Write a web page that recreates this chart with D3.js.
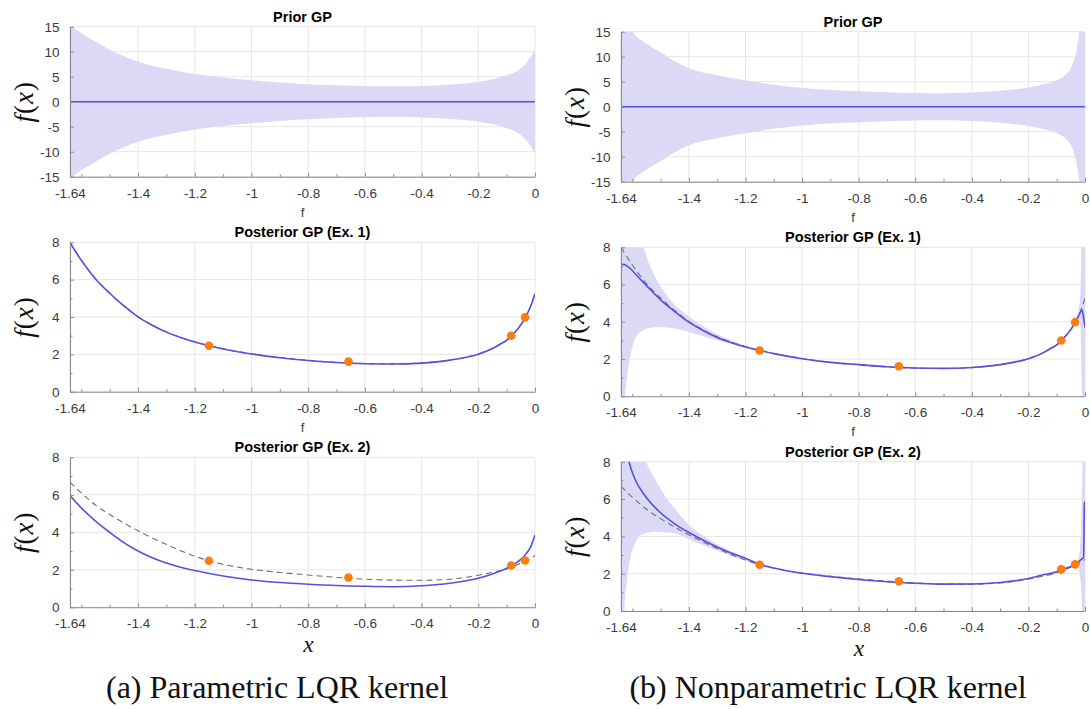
<!DOCTYPE html>
<html>
<head>
<meta charset="utf-8">
<script src="https://cdn.jsdelivr.net/npm/d3@7"></script>
<style>
  body { margin: 0; background: #fff; }
  svg { display: block; }
  .tick text { font-family: "Liberation Sans", Arial, Helvetica, sans-serif; font-size: 13.5px; fill: #3a3a3a; }
  .domain { stroke: #8a8a8a; stroke-width: 1.1; }
  .tick line { stroke: #8a8a8a; }
</style>
</head>
<body>
<svg id="fig" width="1090" height="709"></svg>
<script>
// ---- axis ticks ----
const xTicks = [-1.64, -1.4, -1.2, -1, -0.8, -0.6, -0.4, -0.2, 0];
const xMinorTicks = [-1.6, -1.5, -1.3, -1.1, -0.9, -0.7, -0.5, -0.3, -0.1];
const priorYTicks = [-15, -10, -5, 0, 5, 10, 15];
const postYTicks = [0, 2, 4, 6, 8];
const postYMinorTicks = [1, 3, 5, 7];

// ---- observations ----
const obsX = [-1.15, -0.658, -0.084, -0.035];
const obsEx1 = [2.46, 1.61, 3.0, 3.98];
const obsEx2 = [2.48, 1.59, 2.23, 2.5];

// ---- true functions (dashed) ----
const ex1True = [
  [-1.64, 8.0], [-1.6, 7.05], [-1.55, 6.05], [-1.5, 5.28], [-1.45, 4.6], [-1.4, 4.02],
  [-1.35, 3.57], [-1.3, 3.2], [-1.25, 2.91], [-1.2, 2.67], [-1.15, 2.47], [-1.1, 2.3],
  [-1.0, 2.03], [-0.9, 1.83], [-0.8, 1.68], [-0.7, 1.57], [-0.6, 1.51], [-0.5, 1.49],
  [-0.4, 1.54], [-0.3, 1.7], [-0.2, 2.02], [-0.15, 2.32], [-0.12, 2.58], [-0.1, 2.76],
  [-0.085, 2.98], [-0.06, 3.38], [-0.035, 3.96], [-0.015, 4.6], [0, 5.25]
];
const ex2True = [
  [-1.64, 6.68], [-1.6, 6.1], [-1.55, 5.45], [-1.5, 4.95], [-1.45, 4.5], [-1.4, 4.08],
  [-1.35, 3.7], [-1.3, 3.35], [-1.25, 3.02], [-1.2, 2.73], [-1.15, 2.48], [-1.1, 2.29],
  [-1.0, 2.03], [-0.9, 1.86], [-0.8, 1.72], [-0.7, 1.6], [-0.6, 1.5], [-0.5, 1.45],
  [-0.4, 1.44], [-0.3, 1.5], [-0.2, 1.71], [-0.15, 1.86], [-0.1, 2.05], [-0.085, 2.14],
  [-0.05, 2.35], [-0.035, 2.44], [0, 2.76]
];

// ---- parametric LQR kernel: [x, lower, upper] bands and posterior means ----
const priorParamBand = [
  [-1.64, -15.6, 15.6], [-1.63, -15.0, 15.0], [-1.6, -13.7, 13.7], [-1.55, -12.0, 12.0],
  [-1.5, -10.4, 10.4], [-1.45, -9.1, 9.1], [-1.4, -8.0, 8.0], [-1.3, -6.6, 6.6],
  [-1.2, -5.55, 5.55], [-1.1, -4.85, 4.85], [-1.0, -4.3, 4.3], [-0.9, -3.85, 3.85],
  [-0.8, -3.5, 3.5], [-0.7, -3.27, 3.27], [-0.6, -3.13, 3.13], [-0.5, -3.08, 3.08],
  [-0.4, -3.15, 3.15], [-0.3, -3.45, 3.45], [-0.2, -4.0, 4.0], [-0.15, -4.5, 4.5],
  [-0.1, -5.3, 5.3], [-0.05, -6.65, 6.65], [-0.025, -8.1, 8.1], [0, -10.3, 10.3]
];
const priorMean = [[-1.64, 0], [0, 0]];
const ex1ParamMean = [
  [-1.64, 7.98], [-1.6, 7.03], [-1.55, 6.04], [-1.5, 5.27], [-1.45, 4.59], [-1.4, 4.01],
  [-1.35, 3.56], [-1.3, 3.19], [-1.25, 2.9], [-1.2, 2.66], [-1.15, 2.46], [-1.1, 2.29],
  [-1.0, 2.02], [-0.9, 1.82], [-0.8, 1.67], [-0.7, 1.56], [-0.6, 1.5], [-0.5, 1.48],
  [-0.4, 1.53], [-0.3, 1.69], [-0.2, 2.01], [-0.15, 2.31], [-0.12, 2.57], [-0.1, 2.75],
  [-0.085, 2.97], [-0.06, 3.37], [-0.035, 3.95], [-0.015, 4.59], [0, 5.25]
];
const ex2ParamMean = [
  [-1.64, 5.96], [-1.6, 5.3], [-1.55, 4.6], [-1.5, 4.0], [-1.45, 3.45], [-1.4, 3.0],
  [-1.35, 2.64], [-1.3, 2.36], [-1.25, 2.14], [-1.2, 1.96], [-1.1, 1.67], [-1.0, 1.46],
  [-0.9, 1.32], [-0.8, 1.23], [-0.7, 1.16], [-0.6, 1.12], [-0.5, 1.1], [-0.4, 1.15],
  [-0.3, 1.28], [-0.2, 1.55], [-0.15, 1.78], [-0.1, 2.08], [-0.085, 2.2], [-0.05, 2.56],
  [-0.035, 2.79], [-0.015, 3.24], [0, 3.86]
];

// ---- nonparametric LQR kernel ----
const priorNonparBand = [
  [-1.64, -26, 26], [-1.62, -18, 18], [-1.6, -15.2, 15.2], [-1.55, -12.6, 12.6],
  [-1.5, -10.9, 10.9], [-1.45, -9.1, 9.1], [-1.4, -7.7, 7.7], [-1.3, -6.3, 6.3],
  [-1.2, -5.3, 5.3], [-1.1, -4.4, 4.4], [-1.0, -3.75, 3.75], [-0.9, -3.35, 3.35],
  [-0.8, -3.1, 3.1], [-0.7, -2.9, 2.9], [-0.6, -2.75, 2.75], [-0.5, -2.7, 2.7],
  [-0.4, -2.85, 2.85], [-0.3, -3.2, 3.2], [-0.2, -3.85, 3.85], [-0.15, -4.4, 4.4],
  [-0.1, -5.3, 5.3], [-0.07, -6.3, 6.3], [-0.05, -7.7, 7.7], [-0.03, -11.3, 11.3],
  [-0.02, -15, 15], [-0.01, -20, 20], [0, -28, 28]
];
const ex1NonparBand = [
  [-1.64, -3, 14], [-1.626, 0, 11.5], [-1.614, 1.54, 10.3], [-1.597, 2.8, 9.2],
  [-1.574, 3.42, 8.4], [-1.561, 3.55, 8.0], [-1.544, 3.65, 7.27], [-1.508, 3.72, 6.1],
  [-1.473, 3.69, 5.3], [-1.403, 3.47, 4.32], [-1.332, 3.15, 3.6], [-1.26, 2.86, 3.06],
  [-1.19, 2.57, 2.66], [-1.151, 2.43, 2.47], [-1.1, 2.27, 2.29], [-1.0, 2.0, 2.04],
  [-0.9, 1.8, 1.84], [-0.8, 1.68, 1.72], [-0.7, 1.57, 1.61], [-0.6, 1.5, 1.54],
  [-0.5, 1.48, 1.52], [-0.4, 1.53, 1.57], [-0.3, 1.68, 1.72], [-0.2, 2.0, 2.04],
  [-0.15, 2.3, 2.34], [-0.1, 2.74, 2.78], [-0.085, 2.96, 3.0], [-0.06, 3.36, 3.4],
  [-0.035, 3.93, 3.99], [-0.022, 4.15, 4.7], [-0.016, 3.7, 5.6], [-0.012, 1.0, 9],
  [-0.008, -2, 11], [0, -4, 12]
];
const ex1NonparMean = [
  [-1.64, 7.06], [-1.632, 7.09], [-1.614, 6.95], [-1.58, 6.42], [-1.544, 5.85], [-1.5, 5.18],
  [-1.45, 4.55], [-1.4, 3.98], [-1.35, 3.53], [-1.3, 3.16], [-1.25, 2.88], [-1.2, 2.65],
  [-1.15, 2.46], [-1.1, 2.29], [-1.0, 2.02], [-0.9, 1.82], [-0.8, 1.7], [-0.7, 1.59],
  [-0.6, 1.52], [-0.5, 1.5], [-0.4, 1.55], [-0.3, 1.7], [-0.2, 2.02], [-0.15, 2.32],
  [-0.12, 2.58], [-0.1, 2.76], [-0.085, 2.98], [-0.06, 3.38], [-0.035, 3.96], [-0.02, 4.4],
  [-0.011, 4.65], [-0.007, 4.42], [0, 3.69]
];
const ex2NonparBand = [
  [-1.64, -4, 14], [-1.628, 0, 12], [-1.612, 2.43, 10.5], [-1.591, 3.59, 9.5],
  [-1.579, 3.94, 9.0], [-1.555, 4.15, 8.1], [-1.52, 4.25, 7.07], [-1.485, 4.2, 6.18],
  [-1.449, 4.15, 5.46], [-1.403, 3.86, 4.66], [-1.332, 3.41, 3.86], [-1.26, 3.0, 3.27],
  [-1.19, 2.64, 2.8], [-1.151, 2.45, 2.53], [-1.1, 2.28, 2.32], [-1.0, 2.0, 2.04],
  [-0.9, 1.82, 1.86], [-0.8, 1.67, 1.71], [-0.7, 1.55, 1.59], [-0.6, 1.47, 1.51],
  [-0.5, 1.42, 1.46], [-0.4, 1.43, 1.47], [-0.3, 1.51, 1.55], [-0.2, 1.72, 1.76],
  [-0.15, 1.91, 1.95], [-0.1, 2.08, 2.12], [-0.085, 2.18, 2.22], [-0.06, 2.31, 2.35],
  [-0.035, 2.46, 2.5], [-0.025, 2.4, 2.75], [-0.018, 1.9, 3.3], [-0.012, 0.8, 5.5],
  [-0.007, -2, 9], [0, -4, 12]
];
const ex2NonparMean = [
  [-1.64, 10.0], [-1.612, 8.0], [-1.591, 7.07], [-1.555, 6.18], [-1.508, 5.37], [-1.449, 4.66],
  [-1.403, 4.23], [-1.332, 3.66], [-1.26, 3.16], [-1.19, 2.76], [-1.151, 2.5], [-1.1, 2.3],
  [-1.0, 2.02], [-0.9, 1.84], [-0.8, 1.69], [-0.7, 1.57], [-0.6, 1.49], [-0.5, 1.44],
  [-0.4, 1.45], [-0.3, 1.53], [-0.2, 1.74], [-0.15, 1.93], [-0.1, 2.1], [-0.085, 2.2],
  [-0.06, 2.33], [-0.035, 2.48], [-0.011, 2.79], [-0.005, 2.86], [-0.002, 5.8], [0, 5.85]
];

// ---- layout of the six panels ----
const panels = [
  { left: 70, right: 535, top: 26.7, bottom: 176.7, yDomain: [-15, 15], yTicks: priorYTicks, yMinor: [],
    title: "Prior GP", xLabel: "f", band: priorParamBand, mean: priorMean },
  { left: 70, right: 535, top: 242.3, bottom: 391.7, yDomain: [0, 8], yTicks: postYTicks, yMinor: postYMinorTicks,
    title: "Posterior GP (Ex. 1)", xLabel: "f", truth: ex1True, mean: ex1ParamMean, obs: obsEx1 },
  { left: 70, right: 535, top: 457.3, bottom: 607.3, yDomain: [0, 8], yTicks: postYTicks, yMinor: postYMinorTicks,
    title: "Posterior GP (Ex. 2)", xLabel: "x", truth: ex2True, mean: ex2ParamMean, obs: obsEx2 },
  { left: 621, right: 1085, top: 31.7, bottom: 181.7, yDomain: [-15, 15], yTicks: priorYTicks, yMinor: [],
    title: "Prior GP", xLabel: "f", band: priorNonparBand, mean: priorMean },
  { left: 621, right: 1085, top: 247.3, bottom: 396.3, yDomain: [0, 8], yTicks: postYTicks, yMinor: postYMinorTicks,
    title: "Posterior GP (Ex. 1)", xLabel: "f", band: ex1NonparBand, truth: ex1True, mean: ex1NonparMean, obs: obsEx1 },
  { left: 621, right: 1085, top: 461.7, bottom: 611, yDomain: [0, 8], yTicks: postYTicks, yMinor: postYMinorTicks,
    title: "Posterior GP (Ex. 2)", xLabel: "x", band: ex2NonparBand, truth: ex2True, mean: ex2NonparMean, obs: obsEx2 }
];

const captions = [
  { text: "(a) Parametric LQR kernel", cx: 277 },
  { text: "(b) Nonparametric LQR kernel", cx: 828 }
];

const BAND = "#dcd9f7", MEAN = "#5a4de2", TRUTH = "#6e6e6e", DOT = "#fb7d0c", GRID = "#e6e6e6";
const svg = d3.select("#fig");
svg.append("rect").attr("width", 1090).attr("height", 709).attr("fill", "#fff");
const defs = svg.append("defs");
const fmt = d => String(d);

panels.forEach((p, i) => {
  const x = d3.scaleLinear().domain([-1.64, 0]).range([p.left, p.right]);
  const y = d3.scaleLinear().domain(p.yDomain).range([p.bottom, p.top]);
  const g = svg.append("g");

  // grid
  g.append("g").selectAll("line").data(xTicks).join("line")
    .attr("x1", d => x(d)).attr("x2", d => x(d)).attr("y1", p.top).attr("y2", p.bottom)
    .attr("stroke", GRID).attr("stroke-width", 1);
  g.append("g").selectAll("line").data(p.yTicks).join("line")
    .attr("x1", p.left).attr("x2", p.right).attr("y1", d => y(d)).attr("y2", d => y(d))
    .attr("stroke", GRID).attr("stroke-width", 1);

  defs.append("clipPath").attr("id", "clip" + i).append("rect")
    .attr("x", p.left).attr("y", p.top).attr("width", p.right - p.left).attr("height", p.bottom - p.top);
  const plot = g.append("g").attr("clip-path", `url(#clip${i})`);

  if (p.band) {
    const area = d3.area().x(d => x(d[0])).y0(d => y(d[1])).y1(d => y(d[2])).curve(d3.curveMonotoneX);
    plot.append("path").datum(p.band).attr("d", area).attr("fill", BAND);
  }
  const line = d3.line().x(d => x(d[0])).y(d => y(d[1])).curve(d3.curveMonotoneX);
  if (p.truth) {
    plot.append("path").datum(p.truth).attr("d", line).attr("fill", "none")
      .attr("stroke", TRUTH).attr("stroke-width", 1.1).attr("stroke-dasharray", "6,4");
  }
  plot.append("path").datum(p.mean).attr("d", line).attr("fill", "none")
    .attr("stroke", MEAN).attr("stroke-width", 1.6);
  if (p.obs) {
    g.append("g").selectAll("circle").data(p.obs).join("circle")
      .attr("cx", (d, k) => x(obsX[k])).attr("cy", d => y(d)).attr("r", 4.3).attr("fill", DOT);
  }

  // axes with inward ticks
  g.append("g").attr("transform", `translate(0,${p.bottom})`)
    .call(d3.axisBottom(x).tickValues(xTicks).tickFormat(fmt).tickSize(-4).tickSizeOuter(0).tickPadding(11.5));
  g.append("g").attr("transform", `translate(0,${p.bottom})`)
    .call(d3.axisBottom(x).tickValues(xMinorTicks).tickFormat("").tickSize(-2.5).tickSizeOuter(0))
    .select(".domain").remove();
  g.append("g").attr("transform", `translate(${p.left},0)`)
    .call(d3.axisLeft(y).tickValues(p.yTicks).tickFormat(fmt).tickSize(-4).tickSizeOuter(0).tickPadding(10.5));
  if (p.yMinor.length) {
    g.append("g").attr("transform", `translate(${p.left},0)`)
      .call(d3.axisLeft(y).tickValues(p.yMinor).tickFormat("").tickSize(-2.5).tickSizeOuter(0))
      .select(".domain").remove();
  }

  const cx = (p.left + p.right) / 2;
  // title
  g.append("text").attr("x", cx).attr("y", p.top - 5).attr("text-anchor", "middle")
    .attr("font-family", "Liberation Sans, Arial, sans-serif").attr("font-size", 14.5)
    .attr("font-weight", "bold").attr("fill", "#000").text(p.title);

  // x label
  if (p.xLabel === "f") {
    g.append("text").attr("x", cx).attr("y", p.bottom + 40).attr("text-anchor", "middle")
      .attr("font-family", "Liberation Sans, Arial, sans-serif").attr("font-size", 13)
      .attr("fill", "#3a3a3a").text("f");
  } else {
    g.append("text").attr("x", cx + 6).attr("y", p.bottom + 45).attr("text-anchor", "middle")
      .attr("font-family", "Liberation Serif, serif").attr("font-style", "italic").attr("font-size", 23.5)
      .attr("fill", "#111").text("x");
  }

  // y label f(x)
  const yl = g.append("text")
    .attr("transform", `translate(${p.left - 37},${(p.top + p.bottom) / 2}) rotate(-90)`)
    .attr("text-anchor", "middle").attr("font-family", "Liberation Serif, serif")
    .attr("font-size", 27).attr("fill", "#111").attr("letter-spacing", 1);
  yl.append("tspan").attr("font-style", "italic").text("f");
  yl.append("tspan").text("(");
  yl.append("tspan").attr("font-style", "italic").text("x");
  yl.append("tspan").text(")");
});

svg.selectAll("text.caption").data(captions).join("text").attr("class", "caption")
  .attr("x", d => d.cx).attr("y", 698).attr("text-anchor", "middle")
  .attr("font-family", "Liberation Serif, serif").attr("font-size", 32)
  .attr("fill", "#111").text(d => d.text);
</script>
</body>
</html>
